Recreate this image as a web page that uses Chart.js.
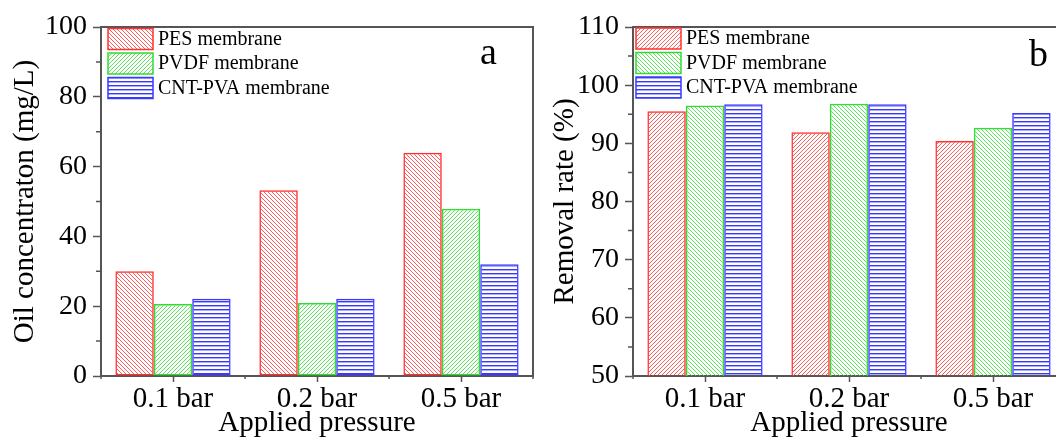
<!DOCTYPE html>
<html>
<head>
<meta charset="utf-8">
<script src="https://cdn.jsdelivr.net/npm/chart.js@4.4.1/dist/chart.umd.min.js"></script>
<style>
  html, body { margin: 0; padding: 0; background: #fff; overflow: hidden; }
  body { width: 1056px; height: 441px; position: relative; }
  #chart-a { position: absolute; left: 0; top: 0; }
  #chart-b { position: absolute; left: 540px; top: 0; }
</style>
</head>
<body>
<canvas id="chart-a" width="540" height="441"></canvas>
<canvas id="chart-b" width="537" height="441"></canvas>
<script>
// data
const categories = ['0.1 bar', '0.2 bar', '0.5 bar'];
const seriesNames = ['PES membrane', 'PVDF membrane', 'CNT-PVA membrane'];

const oilPES = [30, 53.2, 64];
const oilPVDF = [20.6, 20.9, 47.9];
const oilCNT = [22.1, 22.1, 32];

const removalPES = [95.5, 91.9, 90.4];
const removalPVDF = [96.5, 96.8, 92.7];
const removalCNT = [96.7, 96.7, 95.2];

const oilTicksMinor = [10, 30, 50, 70, 90];
const removalTicksMinor = [55, 65, 75, 85, 95, 105];

const axisColor = '#555';
const red = [255, 48, 48], green = [48, 221, 48], blue = [56, 56, 255];

Chart.defaults.font.family = "'Liberation Serif', 'Times New Roman', serif";
Chart.defaults.color = '#000';

function rgb(c) {
    return 'rgb(' + c.join(',') + ')';
}

// small repeating tile, pixels set by hand so the lines stay crisp
function hatch(ctx, color, kind) {
    const size = 4;
    const c = document.createElement('canvas');
    c.width = size;
    c.height = size;
    const g = c.getContext('2d');
    const img = g.createImageData(size, size);
    for (let y = 0; y < size; y++) {
        for (let x = 0; x < size; x++) {
            let a = 0;
            if (kind === 'h') {
                a = y === 1 ? 255 : (y === 2 ? 110 : 0);
            } else {
                const d = kind === 'back' ? (x - y + size) % size : (x + y) % size;
                a = d === 0 ? 200 : 0;
            }
            const k = (y * size + x) * 4;
            img.data[k] = color[0];
            img.data[k + 1] = color[1];
            img.data[k + 2] = color[2];
            img.data[k + 3] = a;
        }
    }
    g.putImageData(img, 0, 0);
    return ctx.createPattern(c, 'repeat');
}

// frame, minor ticks, legend and panel letter
const extrasPlugin = {
    id: 'extras',
    afterDraw(chart, args, o) {
        const { ctx, chartArea: a, scales } = chart;
        ctx.save();
        ctx.strokeStyle = axisColor;
        ctx.lineWidth = 2;
        ctx.beginPath();
        ctx.moveTo(a.left, a.top);
        ctx.lineTo(a.right, a.top);
        ctx.lineTo(a.right, a.bottom);
        ctx.stroke();

        ctx.lineWidth = 1.5;
        ctx.beginPath();
        o.minorY.forEach(v => {
            const y = scales.y.getPixelForValue(v);
            ctx.moveTo(a.left - 5, y);
            ctx.lineTo(a.left, y);
        });
        for (let i = 0; i <= categories.length; i++) {
            const x = scales.x.getPixelForValue(i - 0.5);
            ctx.moveTo(x, a.bottom);
            ctx.lineTo(x, a.bottom + 3);
        }
        ctx.stroke();

        ctx.font = "20px 'Liberation Serif'";
        ctx.textBaseline = 'middle';
        ctx.textAlign = 'left';
        chart.data.datasets.forEach((ds, i) => {
            const y = o.legendY + i * 24.5;
            ctx.fillStyle = '#fff';
            ctx.fillRect(o.legendX, y, 45, 21);
            ctx.fillStyle = ds.backgroundColor;
            ctx.fillRect(o.legendX, y, 45, 21);
            ctx.strokeStyle = ds.borderColor;
            ctx.lineWidth = 1.5;
            ctx.strokeRect(o.legendX, y, 45, 21);
            ctx.fillStyle = '#000';
            ctx.fillText(ds.label, o.legendX + 50, y + 11);
        });

        ctx.font = "38px 'Liberation Serif'";
        ctx.textBaseline = 'alphabetic';
        ctx.fillText(o.letter, o.letterX, o.letterY);
        ctx.restore();
    }
};

function makeChart(id, values, kinds, yTitle, yMin, yMax, yStep, minorY, extras) {
    const canvas = document.getElementById(id);
    const ctx = canvas.getContext('2d');
    const colors = [red, green, blue];
    const datasets = values.map((v, i) => ({
        label: seriesNames[i],
        data: v,
        backgroundColor: hatch(ctx, colors[i], kinds[i]),
        borderColor: rgb(colors[i]),
        borderWidth: 1.5,
        borderSkipped: false,
        categoryPercentage: 0.8,
        barPercentage: 1
    }));

    return new Chart(ctx, {
        type: 'bar',
        data: { labels: categories, datasets: datasets },
        options: {
            responsive: false,
            animation: false,
            layout: { padding: { left: 0, right: extras.padRight, top: 27, bottom: 0 } },
            plugins: {
                legend: { display: false },
                tooltip: { enabled: false },
                extras: Object.assign({ minorY: minorY }, extras)
            },
            scales: {
                x: {
                    z: 1,
                    offset: true,
                    grid: { offset: false, drawOnChartArea: false, color: axisColor, tickLength: 6, tickWidth: 1.5 },
                    border: { display: true, color: axisColor, width: 2 },
                    ticks: { font: { size: 29 }, padding: 0, maxRotation: 0, autoSkip: false, color: '#000' },
                    title: { display: true, text: 'Applied pressure', font: { size: 29 }, padding: { top: 0, bottom: 0 }, color: '#000' },
                    afterFit: s => { s.height = 65; }
                },
                y: {
                    z: 1,
                    min: yMin,
                    max: yMax,
                    grid: { drawOnChartArea: false, color: axisColor, tickLength: 8, tickWidth: 1.5 },
                    border: { display: true, color: axisColor, width: 2 },
                    ticks: { stepSize: yStep, font: { size: 28 }, padding: 6, color: '#000' },
                    title: { display: true, text: yTitle, font: { size: 29 }, padding: { top: 8, bottom: 0 }, color: '#000' },
                    afterFit: s => { s.width = extras.axisWidth; }
                }
            }
        },
        plugins: [extrasPlugin]
    });
}

makeChart('chart-a', [oilPES, oilPVDF, oilCNT], ['back', 'fwd', 'h'],
    'Oil concentraton (mg/L)', 0, 100, 20, oilTicksMinor,
    { axisWidth: 101, padRight: 7, legendX: 108, legendY: 28.5, letter: 'a', letterX: 480, letterY: 64 });

makeChart('chart-b', [removalPES, removalPVDF, removalCNT], ['fwd', 'back', 'h'],
    'Removal rate (%)', 50, 110, 10, removalTicksMinor,
    { axisWidth: 93, padRight: 12, legendX: 96, legendY: 28, letter: 'b', letterX: 489, letterY: 66 });
</script>
</body>
</html>
